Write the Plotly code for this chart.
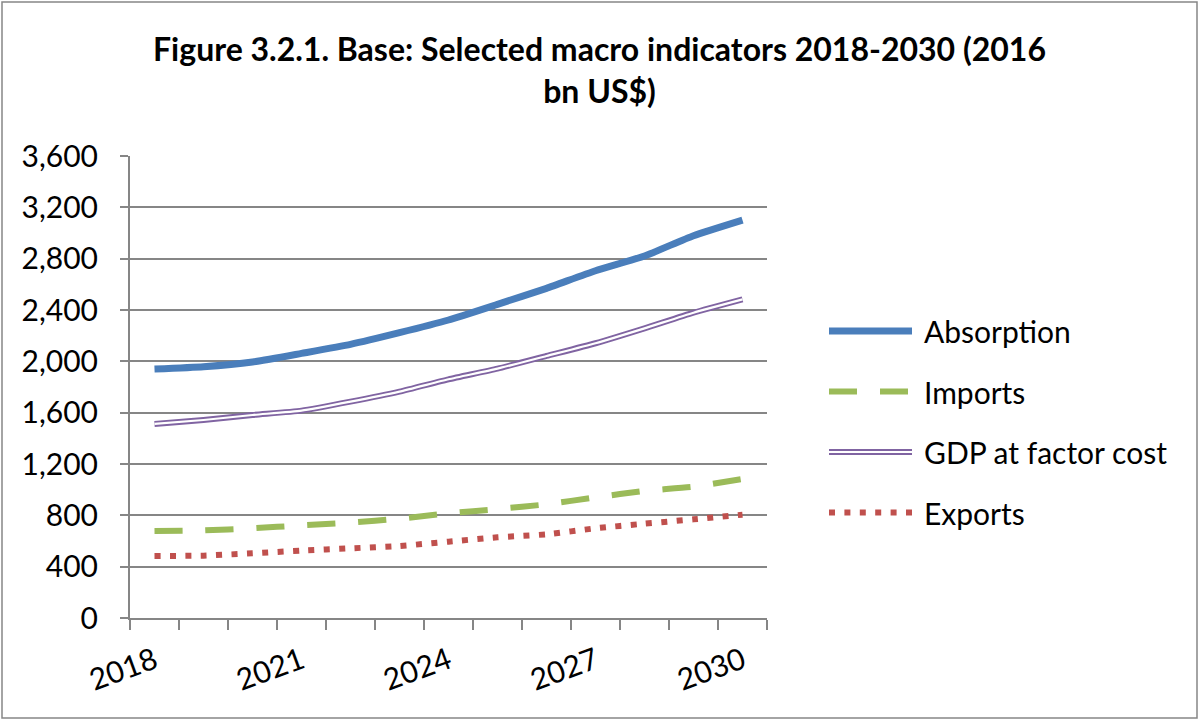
import plotly.graph_objects as go

years = ["2018", "2019", "2020", "2021", "2022", "2023", "2024",
         "2025", "2026", "2027", "2028", "2029", "2030"]
absorption = [1940, 1958, 1995, 2062, 2132, 2223, 2322, 2444, 2569, 2706, 2821, 2979, 3101]
imports = [678, 683, 699, 722, 743, 774, 816, 849, 886, 940, 990, 1023, 1083]
gdp_fc = [1512, 1543, 1582, 1616, 1686, 1764, 1860, 1943, 2042, 2141, 2257, 2379, 2483]
exports = [483, 486, 504, 525, 543, 561, 595, 629, 652, 699, 735, 769, 805]

label_years = ["2018", "2021", "2024", "2027", "2030"]
y_ticks = [0, 400, 800, 1200, 1600, 2000, 2400, 2800, 3200, 3600]

series_names = ["Absorption", "Imports", "GDP at factor cost", "Exports"]
BLUE = "#4A7EBB"
GREEN = "#9BBB59"
PURPLE = "#8064A2"
RED = "#C0504D"
GRID = "#868686"
FONT = "Lato"

W, H = 1199, 720
L, R, T, B = 130, 432, 156, 102
pw, ph = W - L - R, H - T - B

x = list(range(len(years)))
fig = go.Figure()
fig.add_trace(go.Scatter(x=x, y=absorption, mode="lines", name="Absorption",
                         line=dict(color=BLUE, width=7, shape="spline", smoothing=0.5)))
fig.add_trace(go.Scatter(x=x, y=imports, mode="lines", name="Imports",
                         line=dict(color=GREEN, width=6, dash="28px,23px", shape="spline", smoothing=0.5)))
fig.add_trace(go.Scatter(x=x, y=gdp_fc, mode="lines", name="GDP at factor cost",
                         line=dict(color=PURPLE, width=6, shape="spline", smoothing=0.5)))
fig.add_trace(go.Scatter(x=x, y=gdp_fc, mode="lines", name="GDP at factor cost", showlegend=False,
                         line=dict(color="white", width=2.2, shape="spline", smoothing=0.5)))
fig.add_trace(go.Scatter(x=x, y=exports, mode="lines", name="Exports",
                         line=dict(color=RED, width=6, dash="6px,9.4px", shape="spline", smoothing=0.5)))

def px2x(p):
    return (p - L) / pw

def py2y(p):
    return (H - B - p) / ph

shapes = []
# outer chart border
shapes.append(dict(type="rect", xref="paper", yref="paper",
                   x0=px2x(2), x1=px2x(1197), y0=py2y(718), y1=py2y(2),
                   line=dict(color=GRID, width=1.5), fillcolor="rgba(0,0,0,0)", layer="below"))

# custom legend
styles = [
    [dict(color=BLUE, width=7)],
    [dict(color=GREEN, width=6, dash="28px,23px")],
    [dict(color=PURPLE, width=6), dict(color="white", width=2.2)],
    [dict(color=RED, width=6, dash="6px,9.4px")],
]
annotations = []
leg_y0, leg_dy = 331, 60.5
for i, name in enumerate(series_names):
    yy = leg_y0 + i * leg_dy
    for st in styles[i]:
        shapes.append(dict(type="line", xref="paper", yref="paper",
                           x0=px2x(829), x1=px2x(912), y0=py2y(yy), y1=py2y(yy),
                           line=st))
    annotations.append(dict(text=name, xref="paper", yref="paper", x=px2x(922), y=py2y(yy),
                            xanchor="left", yanchor="middle", showarrow=False,
                            font=dict(family=FONT, size=30, color="black")))

fig.update_layout(
    width=W, height=H,
    margin=dict(l=L, r=R, t=T, b=B),
    paper_bgcolor="white", plot_bgcolor="white",
    showlegend=False,
    title=dict(text="<b>Figure 3.2.1. Base: Selected macro indicators 2018-2030 (2016<br>bn US$)</b>",
               x=0.5, xref="container", xanchor="center", y=1 - 61 / H, yref="container", yanchor="top",
               font=dict(family=FONT, size=32, color="black")),
    font=dict(family=FONT, color="black"),
    shapes=shapes,
    annotations=annotations,
)
fig.update_xaxes(
    range=[-0.5, len(years) - 0.5],
    tickmode="array", tickvals=[years.index(y) for y in label_years], ticktext=label_years,
    tickangle=-20, tickfont=dict(family=FONT, size=30, color="black"),
    ticks="outside", ticklen=12, tickcolor="rgba(0,0,0,0)",
    showline=True, linecolor=GRID, linewidth=2, showgrid=False, zeroline=False,
    minor=dict(tickmode="array", tickvals=[i - 0.5 for i in range(len(years) + 1)],
               ticks="outside", ticklen=10, tickcolor=GRID, tickwidth=2, showgrid=False),
)
fig.update_yaxes(
    range=[0, 3600], tickmode="array", tickvals=y_ticks,
    tickformat=",d", tickfont=dict(family=FONT, size=30, color="black"),
    ticks="outside", ticklen=8, tickcolor=GRID, tickwidth=2,
    showline=True, linecolor=GRID, linewidth=2,
    showgrid=True, gridcolor=GRID, gridwidth=2, zeroline=False,
    ticklabelstandoff=16,
)
fig.write_html("out.html", config={"displayModeBar": False},
               post_script="document.body.style.margin='0';")
